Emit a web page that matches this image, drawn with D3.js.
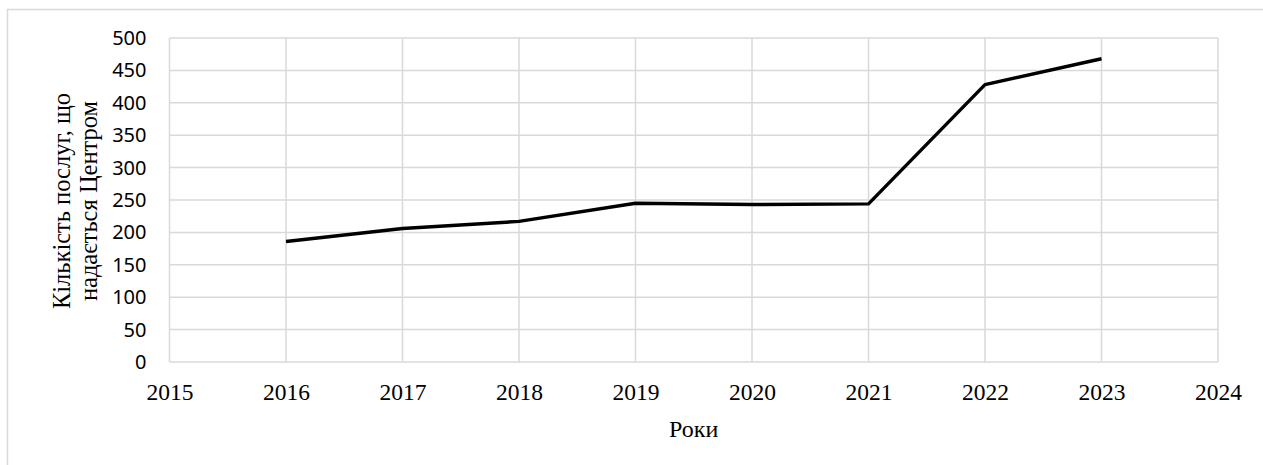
<!DOCTYPE html>
<html>
<head>
<meta charset="utf-8">
<script src="https://cdn.jsdelivr.net/npm/d3@7"></script>
<style>
  body { margin: 0; background: #fff; }
  svg { display: block; }
</style>
</head>
<body>
<script>
var years = [2016, 2017, 2018, 2019, 2020, 2021, 2022, 2023];
var services = [186, 206, 217, 245, 243, 244, 428, 468];
var xTicks = [2015, 2016, 2017, 2018, 2019, 2020, 2021, 2022, 2023, 2024];
var yTicks = [0, 50, 100, 150, 200, 250, 300, 350, 400, 450, 500];
var yTitleLines = ['Кількість послуг, що', 'надається Центром'];
var xTitle = 'Роки';

var width = 1263, height = 465;
var plotLeft = 169.5, plotRight = 1218, plotTop = 38, plotBottom = 362;

var svg = d3.select('body').append('svg')
  .attr('width', width)
  .attr('height', height);

// outer chart frame (right/bottom edges run off the picture)
svg.append('rect')
  .attr('x', 7.5).attr('y', 9.5)
  .attr('width', width + 20).attr('height', height + 20)
  .attr('fill', 'none')
  .attr('stroke', '#d9d9d9')
  .attr('stroke-width', 1.5);

var x = d3.scaleLinear().domain([2015, 2024]).range([plotLeft, plotRight]);
var y = d3.scaleLinear().domain([0, 500]).range([plotBottom, plotTop]);

// gridlines
svg.append('g')
  .selectAll('line')
  .data(yTicks)
  .enter().append('line')
  .attr('x1', plotLeft).attr('x2', plotRight)
  .attr('y1', function(d) { return y(d); })
  .attr('y2', function(d) { return y(d); })
  .attr('stroke', '#d9d9d9')
  .attr('stroke-width', 1.5);

svg.append('g')
  .selectAll('line')
  .data(xTicks)
  .enter().append('line')
  .attr('x1', function(d) { return x(d); })
  .attr('x2', function(d) { return x(d); })
  .attr('y1', plotTop).attr('y2', plotBottom)
  .attr('stroke', '#d9d9d9')
  .attr('stroke-width', 1.5);

// y axis labels
var yAxis = svg.append('g')
  .attr('transform', 'translate(' + (plotLeft - 23) + ',0)')
  .call(d3.axisLeft(y).tickValues(yTicks).tickSize(0).tickPadding(0));
yAxis.select('.domain').remove();
yAxis.selectAll('text')
  .attr('font-family', '"Noto Sans", sans-serif')
  .attr('font-size', 20)
  .attr('fill', '#000');

// x axis labels
var xAxis = svg.append('g')
  .attr('transform', 'translate(0,' + (plotBottom + 21) + ')')
  .call(d3.axisBottom(x).tickValues(xTicks).tickSize(0).tickPadding(0).tickFormat(d3.format('d')));
xAxis.select('.domain').remove();
xAxis.selectAll('text')
  .attr('font-family', '"Liberation Serif", "Times New Roman", serif')
  .attr('font-size', 23.5)
  .attr('fill', '#000');

// series line
var line = d3.line()
  .x(function(d, i) { return x(years[i]); })
  .y(function(d) { return y(d); });

svg.append('path')
  .datum(services)
  .attr('d', line)
  .attr('fill', 'none')
  .attr('stroke', '#000')
  .attr('stroke-width', 3.4)
  .attr('stroke-linejoin', 'round');

// axis titles
svg.append('text')
  .attr('x', (plotLeft + plotRight) / 2)
  .attr('y', 437)
  .attr('text-anchor', 'middle')
  .attr('font-family', '"Liberation Serif", "Times New Roman", serif')
  .attr('font-size', 24)
  .text(xTitle);

var yTitle = svg.append('text')
  .attr('transform', 'translate(70,201) rotate(-90)')
  .attr('text-anchor', 'middle')
  .attr('font-family', '"Liberation Serif", "Times New Roman", serif')
  .attr('font-size', 24.5);
yTitle.selectAll('tspan')
  .data(yTitleLines)
  .enter().append('tspan')
  .attr('x', 0)
  .attr('dy', function(d, i) { return i === 0 ? 0 : 27; })
  .text(function(d) { return d; });
</script>
</body>
</html>
